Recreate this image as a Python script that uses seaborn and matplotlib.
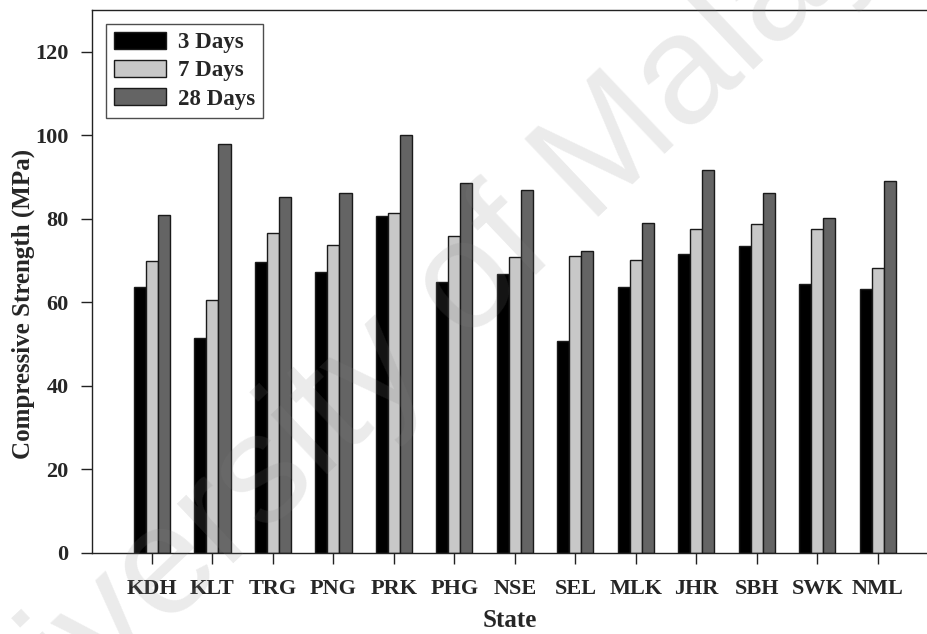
import pandas as pd
import matplotlib
matplotlib.use("Agg")
import matplotlib.pyplot as plt
import seaborn as sns

# compressive strength per state
states = ["KDH", "KLT", "TRG", "PNG", "PRK", "PHG", "NSE",
          "SEL", "MLK", "JHR", "SBH", "SWK", "NML"]
days_3 = [63.7, 51.4, 69.6, 67.2, 80.8, 64.8, 66.8, 50.8, 63.6, 71.7, 73.5, 64.3, 63.2]
days_7 = [69.9, 60.5, 76.7, 73.8, 81.3, 75.8, 70.9, 71.2, 70.1, 77.6, 78.7, 77.5, 68.2]
days_28 = [80.9, 98.0, 85.2, 86.1, 100.0, 88.6, 86.9, 72.4, 79.1, 91.7, 86.2, 80.1, 89.0]
ages = ["3 Days", "7 Days", "28 Days"]

df = pd.DataFrame({"State": states * 3,
                   "Strength": days_3 + days_7 + days_28,
                   "Age": [a for a in ages for _ in states]})

sns.set_theme(style="ticks")
plt.rcParams["font.family"] = ["Liberation Serif", "DejaVu Serif"]

fig = plt.figure(figsize=(9.28, 6.34), dpi=100)
ax = fig.add_axes([92 / 928, 81 / 634, 1 - 92 / 928, 543 / 634])

sns.barplot(data=df, x="State", y="Strength", hue="Age", hue_order=ages,
            palette=["#000000", "#c8c8c8", "#646464"], width=0.6,
            edgecolor="#1a1a1a", linewidth=1.0, saturation=1, ax=ax)

ax.set_xlim(-0.99, 12.83)
ax.set_ylim(0, 130)
ax.set_yticks([0, 20, 40, 60, 80, 100, 120])
ax.spines["right"].set_visible(False)
for s in ["left", "top", "bottom"]:
    ax.spines[s].set_linewidth(1.0)
    ax.spines[s].set_color("#222222")
ax.tick_params(axis="both", direction="out", length=8, width=1, pad=9,
               labelsize=16, color="#222222")
ax.tick_params(axis="x", pad=11)
for lab in ax.get_xticklabels() + ax.get_yticklabels():
    lab.set_fontweight("bold")

ax.set_xlabel("State", fontsize=18, fontweight="bold", labelpad=7)
ax.set_ylabel("Compressive Strength (MPa)", fontsize=18, fontweight="bold")
ax.yaxis.set_label_coords(-0.068, 0.459)

leg = ax.legend(loc="upper left", frameon=True, fancybox=False,
                prop={"weight": "bold", "size": 16.5},
                handlelength=2.3, handleheight=0.75, labelspacing=0.3,
                borderaxespad=0.6, borderpad=0.35, handletextpad=0.5)
leg.get_frame().set_edgecolor("#222222")
leg.get_frame().set_linewidth(1.0)

# faint diagonal watermark
fig.text(0.45, 0.475, "University of Malaya", fontsize=112, color="#808080",
         alpha=0.16, rotation=43.5, ha="center", va="center",
         family="Liberation Sans", fontweight="normal", zorder=10)

fig.savefig("out.png", dpi=100)
